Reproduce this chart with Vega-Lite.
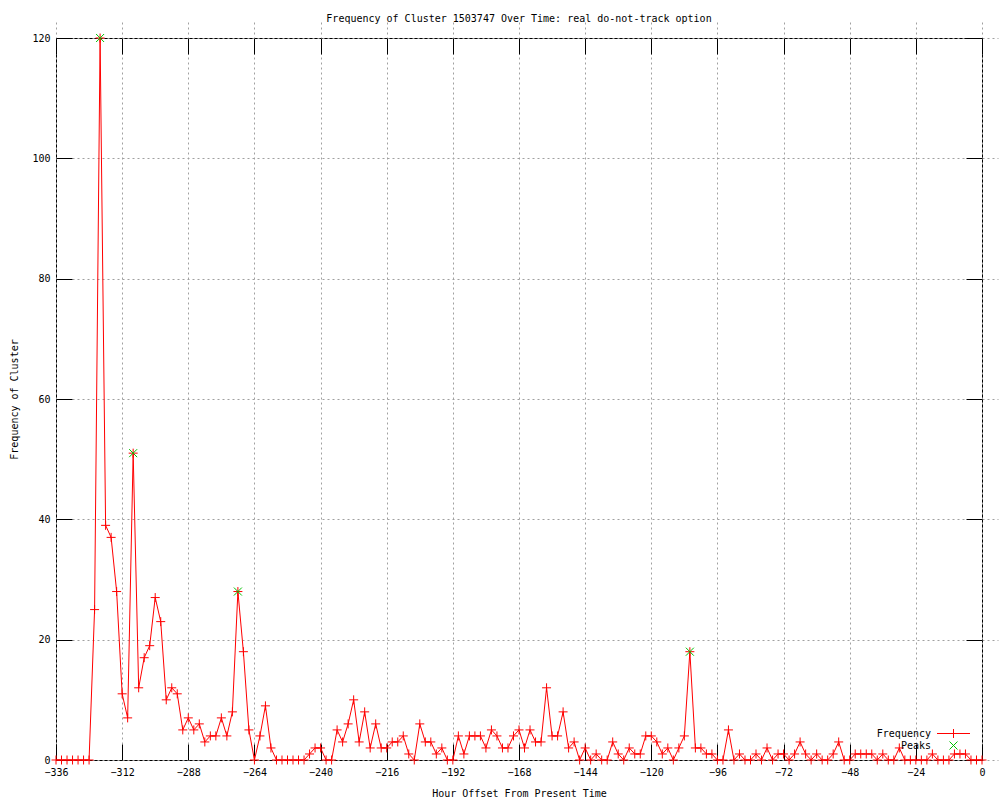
{
  "$schema": "https://vega.github.io/schema/vega-lite/v6.json",
  "width": 926,
  "height": 722,
  "autosize": {"type": "none"},
  "padding": {"left": 56, "top": 38, "right": 18, "bottom": 40},
  "background": "white",
  "title": {"text": "Frequency of Cluster 1503747 Over Time: real do-not-track option", "font": "DejaVu Sans Mono", "fontSize": 10, "fontWeight": "normal", "color": "black", "anchor": "middle", "offset": 8},
  "config": {
    "view": {"stroke": "black", "strokeWidth": 1},
    "axis": {"labelFont": "DejaVu Sans Mono", "labelFontSize": 10, "labelColor": "black", "labelFlush": false, "labelOverlap": false, "titleFont": "DejaVu Sans Mono", "titleFontSize": 10, "titleFontWeight": "normal", "titleColor": "black", "domain": false, "tickColor": "black", "tickSize": 16, "offset": -16, "tickWidth": 1, "gridColor": "#a0a0a0", "gridDash": [2, 3], "gridWidth": 1, "gridOpacity": 1}
  },
  "data": {"values": [
    {"hour": -336, "value": 0, "series": "Frequency"},
    {"hour": -334, "value": 0, "series": "Frequency"},
    {"hour": -332, "value": 0, "series": "Frequency"},
    {"hour": -330, "value": 0, "series": "Frequency"},
    {"hour": -328, "value": 0, "series": "Frequency"},
    {"hour": -326, "value": 0, "series": "Frequency"},
    {"hour": -324, "value": 0, "series": "Frequency"},
    {"hour": -322, "value": 25, "series": "Frequency"},
    {"hour": -320, "value": 120, "series": "Frequency"},
    {"hour": -318, "value": 39, "series": "Frequency"},
    {"hour": -316, "value": 37, "series": "Frequency"},
    {"hour": -314, "value": 28, "series": "Frequency"},
    {"hour": -312, "value": 11, "series": "Frequency"},
    {"hour": -310, "value": 7, "series": "Frequency"},
    {"hour": -308, "value": 51, "series": "Frequency"},
    {"hour": -306, "value": 12, "series": "Frequency"},
    {"hour": -304, "value": 17, "series": "Frequency"},
    {"hour": -302, "value": 19, "series": "Frequency"},
    {"hour": -300, "value": 27, "series": "Frequency"},
    {"hour": -298, "value": 23, "series": "Frequency"},
    {"hour": -296, "value": 10, "series": "Frequency"},
    {"hour": -294, "value": 12, "series": "Frequency"},
    {"hour": -292, "value": 11, "series": "Frequency"},
    {"hour": -290, "value": 5, "series": "Frequency"},
    {"hour": -288, "value": 7, "series": "Frequency"},
    {"hour": -286, "value": 5, "series": "Frequency"},
    {"hour": -284, "value": 6, "series": "Frequency"},
    {"hour": -282, "value": 3, "series": "Frequency"},
    {"hour": -280, "value": 4, "series": "Frequency"},
    {"hour": -278, "value": 4, "series": "Frequency"},
    {"hour": -276, "value": 7, "series": "Frequency"},
    {"hour": -274, "value": 4, "series": "Frequency"},
    {"hour": -272, "value": 8, "series": "Frequency"},
    {"hour": -270, "value": 28, "series": "Frequency"},
    {"hour": -268, "value": 18, "series": "Frequency"},
    {"hour": -266, "value": 5, "series": "Frequency"},
    {"hour": -264, "value": 0, "series": "Frequency"},
    {"hour": -262, "value": 4, "series": "Frequency"},
    {"hour": -260, "value": 9, "series": "Frequency"},
    {"hour": -258, "value": 2, "series": "Frequency"},
    {"hour": -256, "value": 0, "series": "Frequency"},
    {"hour": -254, "value": 0, "series": "Frequency"},
    {"hour": -252, "value": 0, "series": "Frequency"},
    {"hour": -250, "value": 0, "series": "Frequency"},
    {"hour": -248, "value": 0, "series": "Frequency"},
    {"hour": -246, "value": 0, "series": "Frequency"},
    {"hour": -244, "value": 1, "series": "Frequency"},
    {"hour": -242, "value": 2, "series": "Frequency"},
    {"hour": -240, "value": 2, "series": "Frequency"},
    {"hour": -238, "value": 0, "series": "Frequency"},
    {"hour": -236, "value": 0, "series": "Frequency"},
    {"hour": -234, "value": 5, "series": "Frequency"},
    {"hour": -232, "value": 3, "series": "Frequency"},
    {"hour": -230, "value": 6, "series": "Frequency"},
    {"hour": -228, "value": 10, "series": "Frequency"},
    {"hour": -226, "value": 3, "series": "Frequency"},
    {"hour": -224, "value": 8, "series": "Frequency"},
    {"hour": -222, "value": 2, "series": "Frequency"},
    {"hour": -220, "value": 6, "series": "Frequency"},
    {"hour": -218, "value": 2, "series": "Frequency"},
    {"hour": -216, "value": 2, "series": "Frequency"},
    {"hour": -214, "value": 3, "series": "Frequency"},
    {"hour": -212, "value": 3, "series": "Frequency"},
    {"hour": -210, "value": 4, "series": "Frequency"},
    {"hour": -208, "value": 1, "series": "Frequency"},
    {"hour": -206, "value": 0, "series": "Frequency"},
    {"hour": -204, "value": 6, "series": "Frequency"},
    {"hour": -202, "value": 3, "series": "Frequency"},
    {"hour": -200, "value": 3, "series": "Frequency"},
    {"hour": -198, "value": 1, "series": "Frequency"},
    {"hour": -196, "value": 2, "series": "Frequency"},
    {"hour": -194, "value": 0, "series": "Frequency"},
    {"hour": -192, "value": 0, "series": "Frequency"},
    {"hour": -190, "value": 4, "series": "Frequency"},
    {"hour": -188, "value": 1, "series": "Frequency"},
    {"hour": -186, "value": 4, "series": "Frequency"},
    {"hour": -184, "value": 4, "series": "Frequency"},
    {"hour": -182, "value": 4, "series": "Frequency"},
    {"hour": -180, "value": 2, "series": "Frequency"},
    {"hour": -178, "value": 5, "series": "Frequency"},
    {"hour": -176, "value": 4, "series": "Frequency"},
    {"hour": -174, "value": 2, "series": "Frequency"},
    {"hour": -172, "value": 2, "series": "Frequency"},
    {"hour": -170, "value": 4, "series": "Frequency"},
    {"hour": -168, "value": 5, "series": "Frequency"},
    {"hour": -166, "value": 2, "series": "Frequency"},
    {"hour": -164, "value": 5, "series": "Frequency"},
    {"hour": -162, "value": 3, "series": "Frequency"},
    {"hour": -160, "value": 3, "series": "Frequency"},
    {"hour": -158, "value": 12, "series": "Frequency"},
    {"hour": -156, "value": 4, "series": "Frequency"},
    {"hour": -154, "value": 4, "series": "Frequency"},
    {"hour": -152, "value": 8, "series": "Frequency"},
    {"hour": -150, "value": 2, "series": "Frequency"},
    {"hour": -148, "value": 3, "series": "Frequency"},
    {"hour": -146, "value": 0, "series": "Frequency"},
    {"hour": -144, "value": 2, "series": "Frequency"},
    {"hour": -142, "value": 0, "series": "Frequency"},
    {"hour": -140, "value": 1, "series": "Frequency"},
    {"hour": -138, "value": 0, "series": "Frequency"},
    {"hour": -136, "value": 0, "series": "Frequency"},
    {"hour": -134, "value": 3, "series": "Frequency"},
    {"hour": -132, "value": 1, "series": "Frequency"},
    {"hour": -130, "value": 0, "series": "Frequency"},
    {"hour": -128, "value": 2, "series": "Frequency"},
    {"hour": -126, "value": 1, "series": "Frequency"},
    {"hour": -124, "value": 1, "series": "Frequency"},
    {"hour": -122, "value": 4, "series": "Frequency"},
    {"hour": -120, "value": 4, "series": "Frequency"},
    {"hour": -118, "value": 3, "series": "Frequency"},
    {"hour": -116, "value": 1, "series": "Frequency"},
    {"hour": -114, "value": 2, "series": "Frequency"},
    {"hour": -112, "value": 0, "series": "Frequency"},
    {"hour": -110, "value": 2, "series": "Frequency"},
    {"hour": -108, "value": 4, "series": "Frequency"},
    {"hour": -106, "value": 18, "series": "Frequency"},
    {"hour": -104, "value": 2, "series": "Frequency"},
    {"hour": -102, "value": 2, "series": "Frequency"},
    {"hour": -100, "value": 1, "series": "Frequency"},
    {"hour": -98, "value": 1, "series": "Frequency"},
    {"hour": -96, "value": 0, "series": "Frequency"},
    {"hour": -94, "value": 0, "series": "Frequency"},
    {"hour": -92, "value": 5, "series": "Frequency"},
    {"hour": -90, "value": 0, "series": "Frequency"},
    {"hour": -88, "value": 1, "series": "Frequency"},
    {"hour": -86, "value": 0, "series": "Frequency"},
    {"hour": -84, "value": 0, "series": "Frequency"},
    {"hour": -82, "value": 1, "series": "Frequency"},
    {"hour": -80, "value": 0, "series": "Frequency"},
    {"hour": -78, "value": 2, "series": "Frequency"},
    {"hour": -76, "value": 0, "series": "Frequency"},
    {"hour": -74, "value": 1, "series": "Frequency"},
    {"hour": -72, "value": 1, "series": "Frequency"},
    {"hour": -70, "value": 0, "series": "Frequency"},
    {"hour": -68, "value": 1, "series": "Frequency"},
    {"hour": -66, "value": 3, "series": "Frequency"},
    {"hour": -64, "value": 1, "series": "Frequency"},
    {"hour": -62, "value": 0, "series": "Frequency"},
    {"hour": -60, "value": 1, "series": "Frequency"},
    {"hour": -58, "value": 0, "series": "Frequency"},
    {"hour": -56, "value": 0, "series": "Frequency"},
    {"hour": -54, "value": 1, "series": "Frequency"},
    {"hour": -52, "value": 3, "series": "Frequency"},
    {"hour": -50, "value": 0, "series": "Frequency"},
    {"hour": -48, "value": 0, "series": "Frequency"},
    {"hour": -46, "value": 1, "series": "Frequency"},
    {"hour": -44, "value": 1, "series": "Frequency"},
    {"hour": -42, "value": 1, "series": "Frequency"},
    {"hour": -40, "value": 1, "series": "Frequency"},
    {"hour": -38, "value": 0, "series": "Frequency"},
    {"hour": -36, "value": 1, "series": "Frequency"},
    {"hour": -34, "value": 0, "series": "Frequency"},
    {"hour": -32, "value": 0, "series": "Frequency"},
    {"hour": -30, "value": 2, "series": "Frequency"},
    {"hour": -28, "value": 0, "series": "Frequency"},
    {"hour": -26, "value": 0, "series": "Frequency"},
    {"hour": -24, "value": 0, "series": "Frequency"},
    {"hour": -22, "value": 0, "series": "Frequency"},
    {"hour": -20, "value": 0, "series": "Frequency"},
    {"hour": -18, "value": 1, "series": "Frequency"},
    {"hour": -16, "value": 0, "series": "Frequency"},
    {"hour": -14, "value": 0, "series": "Frequency"},
    {"hour": -12, "value": 0, "series": "Frequency"},
    {"hour": -10, "value": 1, "series": "Frequency"},
    {"hour": -8, "value": 1, "series": "Frequency"},
    {"hour": -6, "value": 1, "series": "Frequency"},
    {"hour": -4, "value": 0, "series": "Frequency"},
    {"hour": -2, "value": 0, "series": "Frequency"},
    {"hour": 0, "value": 0, "series": "Frequency"},
    {"hour": -320, "value": 120, "series": "Peaks"},
    {"hour": -308, "value": 51, "series": "Peaks"},
    {"hour": -270, "value": 28, "series": "Peaks"},
    {"hour": -106, "value": 18, "series": "Peaks"}
  ]},
  "layer": [
    {
      "transform": [{"filter": "datum.series === 'Frequency'"}],
      "mark": {"type": "line", "color": "#ff0000", "strokeWidth": 1},
      "encoding": {
        "x": {"field": "hour", "type": "quantitative", "scale": {"domain": [-336, 0], "nice": false, "zero": false},
              "axis": {"orient": "bottom", "values": [-336, -312, -288, -264, -240, -216, -192, -168, -144, -120, -96, -72, -48, -24, 0], "title": "Hour Offset From Present Time", "labelPadding": 7, "titlePadding": 11, "grid": true}},
        "y": {"field": "value", "type": "quantitative", "scale": {"domain": [0, 120], "nice": false},
              "axis": {"orient": "left", "values": [0, 20, 40, 60, 80, 100, 120], "title": "Frequency of Cluster", "labelPadding": 6, "titlePadding": 12, "grid": true}}
      }
    },
    {
      "transform": [{"filter": "datum.series === 'Frequency'"}],
      "mark": {"type": "point", "filled": false, "strokeWidth": 1, "size": 81, "opacity": 1, "color": "#ff0000", "shape": "M-1,0H1M0,-1V1"},
      "encoding": {
        "x": {"field": "hour", "type": "quantitative", "axis": null},
        "y": {"field": "value", "type": "quantitative", "axis": null}
      }
    },
    {
      "transform": [{"filter": "datum.series === 'Peaks'"}],
      "mark": {"type": "point", "filled": false, "strokeWidth": 1, "size": 64, "opacity": 1, "color": "#00c000", "shape": "M-1,-1L1,1M1,-1L-1,1"},
      "encoding": {
        "x": {"field": "hour", "type": "quantitative", "axis": null},
        "y": {"field": "value", "type": "quantitative", "axis": null}
      }
    },
    {
      "mark": {"type": "point", "filled": false, "strokeWidth": 1, "size": 100, "opacity": 0},
      "encoding": {
        "x": {"field": "hour", "type": "quantitative", "axis": {"orient": "top", "values": [-336, -312, -288, -264, -240, -216, -192, -168, -144, -120, -96, -72, -48, -24, 0], "labels": false, "grid": false, "title": null}},
        "y": {"field": "value", "type": "quantitative", "axis": {"orient": "right", "values": [0, 20, 40, 60, 80, 100, 120], "labels": false, "grid": false, "title": null}},
        "stroke": {"field": "series", "type": "nominal", "scale": {"domain": ["Frequency", "Peaks"], "range": ["#ff0000", "#00c000"]},
                   "legend": {"title": null, "orient": "none", "legendX": 892, "legendY": 690, "padding": 0, "labelAlign": "right", "labelOffset": -28, "labelFont": "DejaVu Sans Mono", "labelFontSize": 10, "labelColor": "black", "symbolSize": 100, "rowPadding": -1, "symbolStrokeWidth": 1, "symbolOpacity": 1}},
        "shape": {"field": "series", "type": "nominal", "scale": {"domain": ["Frequency", "Peaks"], "range": ["M-3.3,0H3.3M0,-0.9V0.9", "M-0.8,-0.8L0.8,0.8M0.8,-0.8L-0.8,0.8"]},
                   "legend": {"title": null, "orient": "none", "legendX": 892, "legendY": 690, "padding": 0, "labelAlign": "right", "labelOffset": -28, "labelFont": "DejaVu Sans Mono", "labelFontSize": 10, "labelColor": "black", "symbolSize": 100, "rowPadding": -1, "symbolStrokeWidth": 1, "symbolOpacity": 1}}
      }
    }
  ],
  "resolve": {"axis": {"x": "independent", "y": "independent"}}
}
